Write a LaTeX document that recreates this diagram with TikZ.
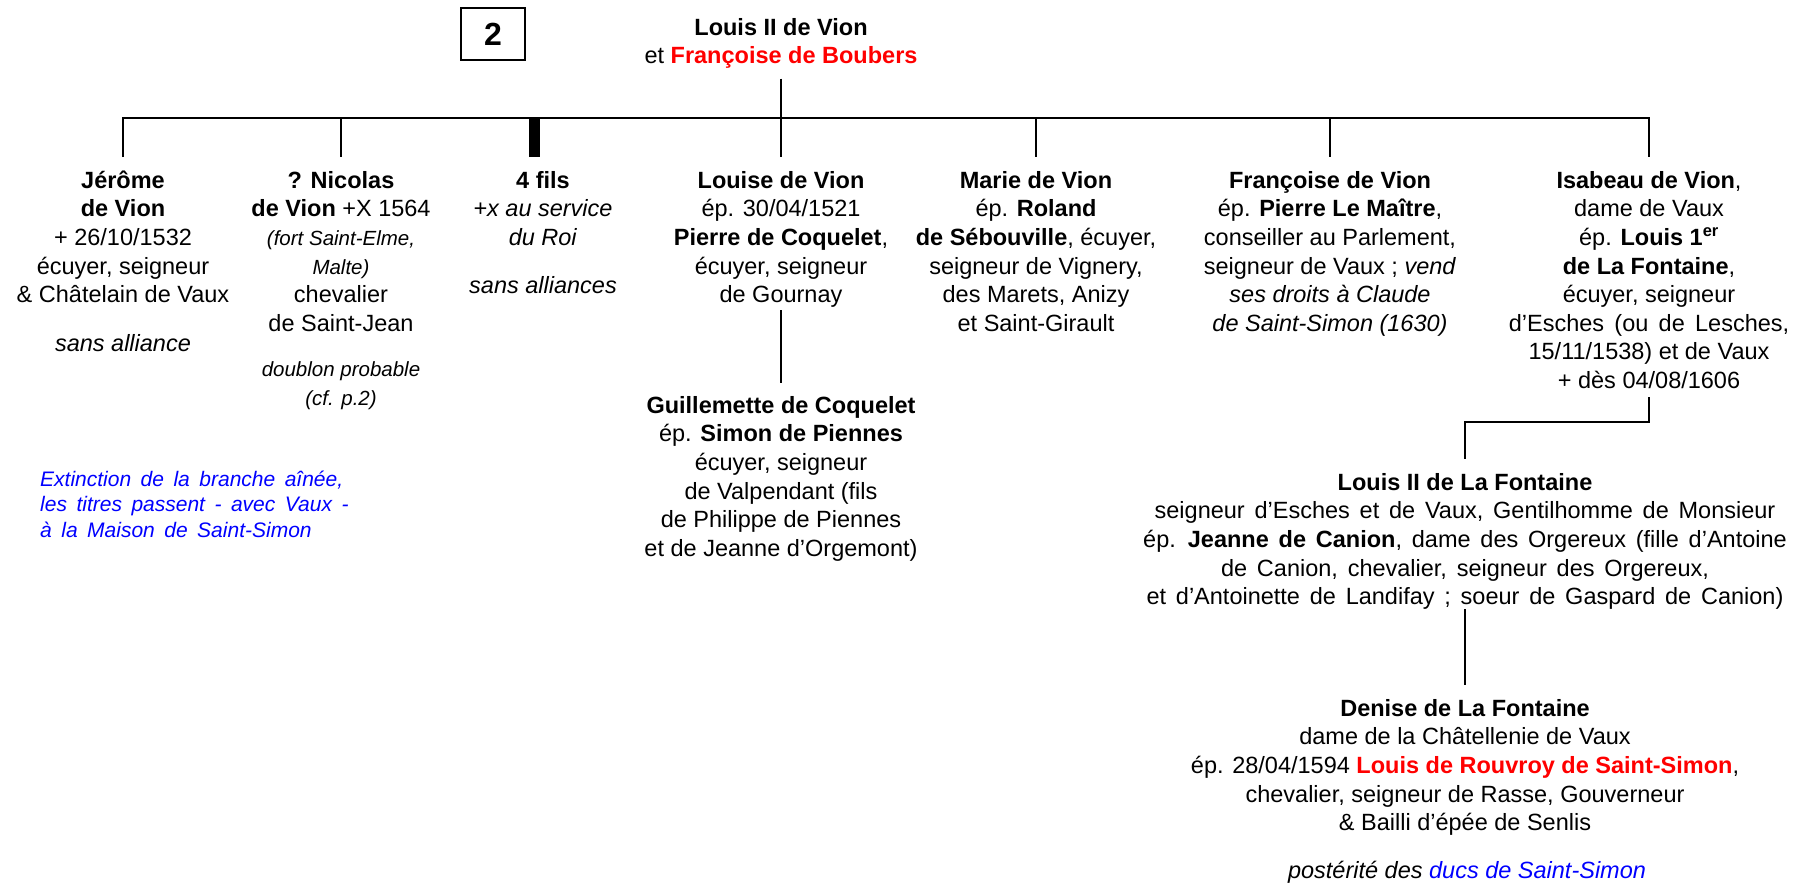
\documentclass[tikz,border=0pt]{standalone}
\usepackage{fontspec}
\setmainfont{Liberation Sans}
\usetikzlibrary{calc}
\definecolor{myred}{RGB}{255,0,0}
\definecolor{myblue}{RGB}{0,0,255}
\newcommand{\smit}{\fontsize{20.5}{28.6}\selectfont\itshape}
\newcommand{\widefont}{\fontsize{23.5}{28.6}\selectfont\spaceskip=9.8pt\relax}
\newcommand{\notefont}{\fontsize{21}{25.5}\selectfont\itshape\spaceskip=9.5pt\relax}
\newcommand{\widerline}{\spaceskip=10.3pt\relax}
\newcommand{\normalsp}{\spaceskip=0pt\relax}
\tikzset{
  txt/.style={font=\fontsize{23.5}{28.6}\selectfont, inner sep=0pt, align=center, anchor=north},
  widetxt/.style={txt, font=\widefont},
  bluenote/.style={font=\notefont, text=myblue, inner sep=0pt, align=left, anchor=north west},
  link/.style={line width=2.5pt},
  thicklink/.style={line width=11pt},
  numbox/.style={draw, line width=2.5pt, minimum width=64pt, minimum height=52pt, inner sep=0pt, font=\fontsize{32}{36}\selectfont\bfseries}
}
\begin{document}
\begin{tikzpicture}[x=1pt,y=-1pt]
\useasboundingbox (0,0) rectangle (1807,884);
\node[numbox] (num) at (493,34) {2};
\node[txt] (title) at (781,15) {\strut\textbf{Louis II de Vion}\\et \textcolor{myred}{\textbf{Françoise de Boubers}}\strut};

\node[txt] (jerome) at (123,168) {\strut\textbf{Jérôme}\\\textbf{de Vion}\\+ 26/10/1532\\écuyer, seigneur\\\& Châtelain de Vaux\\[20pt]\textit{sans alliance}\strut};
\node[txt] (nicolas) at (341,168) {\strut\textbf{? Nicolas}\\\textbf{de Vion} +X 1564\\{\smit (fort Saint-Elme,}\\{\smit Malte)}\\chevalier\\de Saint-Jean\\[17pt]{\smit doublon probable}\\{\smit (cf. p.2)}\strut};
\node[txt] (fils) at (543,168) {\strut\textbf{4 fils}\\\textit{+x au service}\\\textit{du Roi}\\[19pt]\textit{sans alliances}\strut};
\node[txt] (louise) at (781,168) {\strut\textbf{Louise de Vion}\\ép. 30/04/1521\\\textbf{Pierre de Coquelet},\\écuyer, seigneur\\de Gournay\strut};
\node[txt] (marie) at (1036,168) {\strut\textbf{Marie de Vion}\\ép. \textbf{Roland}\\\textbf{de Sébouville}, écuyer,\\seigneur de Vignery,\\des Marets, Anizy\\et Saint-Girault\strut};
\node[txt] (francoise) at (1330,168) {\strut\textbf{Françoise de Vion}\\ép. \textbf{Pierre Le Maître},\\conseiller au Parlement,\\seigneur de Vaux ; \textit{vend}\\\textit{ses droits à Claude}\\\textit{de Saint-Simon (1630)}\strut};
\node[txt] (isabeau) at (1649,168) {\strut\textbf{Isabeau de Vion},\\dame de Vaux\\ép. \textbf{Louis 1\textsuperscript{er}}\\\textbf{de La Fontaine},\\écuyer, seigneur\\{\widerline d’Esches (ou de Lesches,}\\15/11/1538) et de Vaux\\+ dès 04/08/1606\strut};

\node[txt] (guill) at (781,393) {\strut\textbf{Guillemette de Coquelet}\\ép. \textbf{Simon de Piennes}\\écuyer, seigneur\\de Valpendant (fils\\de Philippe de Piennes\\et de Jeanne d’Orgemont)\strut};
\node[widetxt] (louis2) at (1465,470) {\strut{\normalsp\textbf{Louis II de La Fontaine}}\\seigneur d’Esches et de Vaux, Gentilhomme de Monsieur\\ép. \textbf{Jeanne de Canion}, dame des Orgereux (fille d’Antoine\\de Canion, chevalier, seigneur des Orgereux,\\et d’Antoinette de Landifay ; soeur de Gaspard de Canion)\strut};
\node[txt] (denise) at (1465,696) {\strut\textbf{Denise de La Fontaine}\\dame de la Châtellenie de Vaux\\ép. 28/04/1594 \textcolor{myred}{\textbf{Louis de Rouvroy de Saint-Simon}},\\chevalier, seigneur de Rasse, Gouverneur\\\& Bailli d’épée de Senlis\strut};
\node[txt] (post) at (1467,858) {\strut\textit{postérité des \textcolor{myblue}{ducs de Saint-Simon}}\strut};

\node[bluenote] (note) at (40,468) {\strut Extinction de la branche aînée,\\les titres passent - avec Vaux -\\à la Maison de Saint-Simon\strut};

\coordinate (barY) at (0,118);
\draw[link] ([yshift=11pt]jerome.north) -- (jerome.north |- barY) -- (isabeau.north |- barY) -- ([yshift=11pt]isabeau.north);
\draw[link] ([yshift=-6pt]title.south) -- ([yshift=11pt]louise.north);
\draw[link] (nicolas.north |- barY) -- ([yshift=11pt]nicolas.north);
\draw[thicklink] ([xshift=-9pt]fils.north |- barY) -- ([xshift=-9pt,yshift=11pt]fils.north);
\draw[link] (marie.north |- barY) -- ([yshift=11pt]marie.north);
\draw[link] (francoise.north |- barY) -- ([yshift=11pt]francoise.north);
\draw[link] ([yshift=1pt]louise.south) -- ([yshift=10pt]guill.north);
\draw[link] (isabeau.south) |- ([yshift=48pt]louis2.north) -- ([yshift=11pt]louis2.north);
\draw[link] ([yshift=4pt]louis2.south) -- ([yshift=11pt]denise.north);
\end{tikzpicture}
\end{document}
